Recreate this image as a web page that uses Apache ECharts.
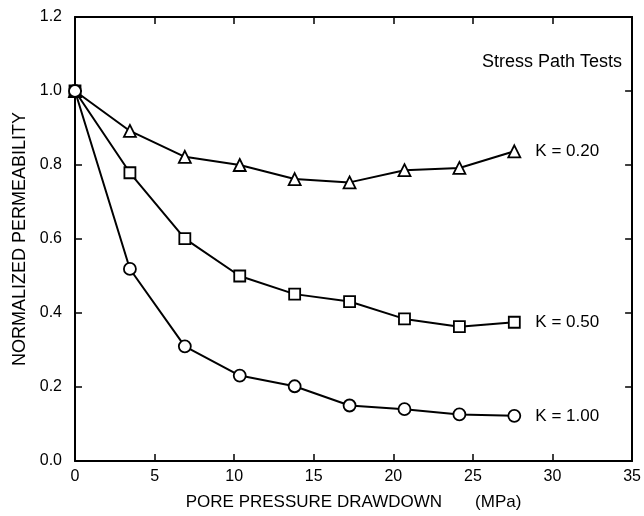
<!DOCTYPE html>
<html>
<head>
<meta charset="utf-8">
<script src="https://cdn.jsdelivr.net/npm/echarts@6/dist/echarts.min.js"></script>
<style>
  html, body { margin: 0; padding: 0; background: #fff; }
  #chart { width: 644px; height: 516px; }
</style>
</head>
<body>
<div id="chart"></div>
<script>
// drawdown (MPa) for every test stage
const drawdown = [0, 3.45, 6.9, 10.35, 13.8, 17.25, 20.7, 24.15, 27.6];
// normalized permeability, one array per stress path
const k020 = [1.0, 0.892, 0.822, 0.80, 0.762, 0.753, 0.786, 0.792, 0.837];
const k050 = [1.0, 0.779, 0.601, 0.50, 0.451, 0.431, 0.384, 0.363, 0.375];
const k100 = [1.0, 0.519, 0.31, 0.231, 0.202, 0.15, 0.14, 0.126, 0.122];
const seriesNames = ['K = 0.20', 'K = 0.50', 'K = 1.00'];
const seriesSymbols = ['triangle', 'rect', 'circle'];

const font = 'Liberation Sans';
const chart = echarts.init(document.getElementById('chart'));

const pair = (ys) => drawdown.map((x, i) => [x, ys[i]]);

const makeSeries = (name, ys, symbol, size) => ({
  name: name,
  type: 'line',
  data: pair(ys),
  symbol: symbol,
  symbolSize: size,
  showAllSymbol: true,
  lineStyle: { color: '#000', width: 2 },
  itemStyle: { color: '#fff', borderColor: '#000', borderWidth: 1.8 },
  endLabel: {
    show: true,
    formatter: name,
    distance: 21,
    color: '#000',
    fontFamily: font,
    fontSize: 17
  },
  z: 3
});

// shared look of the frame axes
const tick = { inside: true, length: 7, lineStyle: { color: '#000', width: 1.5 } };
const frameLine = { show: true, onZero: false, lineStyle: { color: '#000', width: 2 } };

const option = {
  backgroundColor: '#fff',
  animation: false,
  grid: { left: 75, right: 9, top: 17, bottom: 53 },
  xAxis: [
    {
      type: 'value',
      min: 0, max: 35, interval: 5,
      name: 'PORE PRESSURE DRAWDOWN       (MPa)',
      nameLocation: 'middle',
      nameGap: 33,
      nameTextStyle: { color: '#000', fontFamily: font, fontSize: 17 },
      axisLine: frameLine,
      axisTick: tick,
      axisLabel: { color: '#000', fontFamily: font, fontSize: 16, margin: 8 },
      splitLine: { show: false }
    },
    {
      type: 'value',
      position: 'top',
      min: 0, max: 35, interval: 5,
      axisLine: frameLine,
      axisTick: tick,
      axisLabel: { show: false },
      splitLine: { show: false }
    }
  ],
  yAxis: [
    {
      type: 'value',
      min: 0, max: 1.2, interval: 0.2,
      name: 'NORMALIZED PERMEABILITY',
      nameLocation: 'middle',
      nameGap: 45,
      nameTextStyle: { color: '#000', fontFamily: font, fontSize: 18 },
      axisLine: frameLine,
      axisTick: tick,
      axisLabel: {
        color: '#000', fontFamily: font, fontSize: 16, margin: 13,
        formatter: (v) => v.toFixed(1)
      },
      splitLine: { show: false }
    },
    {
      type: 'value',
      position: 'right',
      min: 0, max: 1.2, interval: 0.2,
      axisLine: frameLine,
      axisTick: tick,
      axisLabel: { show: false },
      splitLine: { show: false }
    }
  ],
  graphic: [
    {
      type: 'text',
      right: 22,
      top: 53,
      style: { text: 'Stress Path Tests', fill: '#000', font: '18px "' + font + '"' }
    }
  ],
  series: [
    makeSeries(seriesNames[0], k020, seriesSymbols[0], 12),
    makeSeries(seriesNames[1], k050, seriesSymbols[1], 11),
    makeSeries(seriesNames[2], k100, seriesSymbols[2], 12)
  ]
};

chart.setOption(option);
</script>
</body>
</html>
